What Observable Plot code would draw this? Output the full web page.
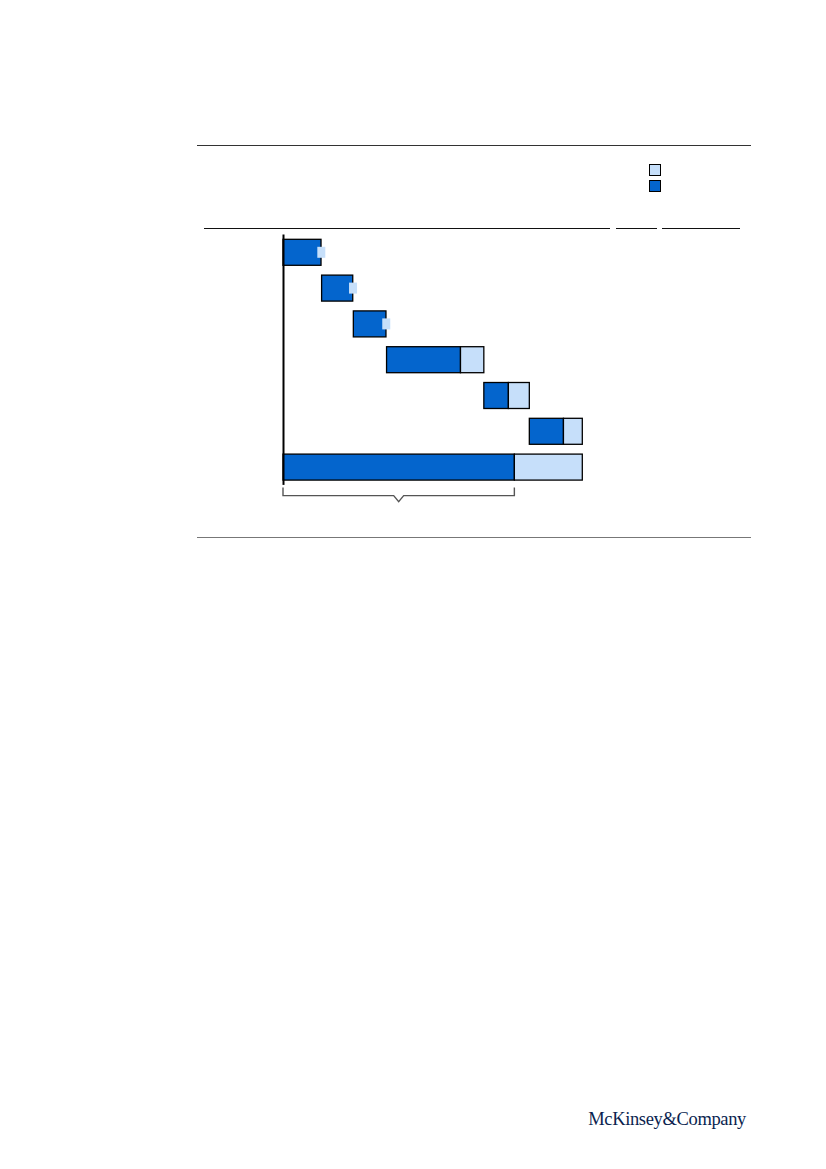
<!DOCTYPE html>
<html>
<head>
<meta charset="utf-8">
<script src="https://cdn.jsdelivr.net/npm/d3@7"></script>
<script src="https://cdn.jsdelivr.net/npm/@observablehq/plot@0.6"></script>
<style>
  html, body { margin: 0; padding: 0; background: #fff; }
  #page { position: relative; width: 826px; height: 1169px; overflow: hidden; }
  .rule { position: absolute; height: 0; }
  .sw { position: absolute; width: 10px; height: 10px; border: 1px solid #000; }
  #chart { position: absolute; left: 0; top: 0; }
  #logo { position: absolute; right: 80px; top: 1109.5px; line-height: 1; font-family: "Liberation Serif", "DejaVu Serif", serif; font-size: 18.5px; color: #0b1f4f; letter-spacing: -0.35px; white-space: nowrap; }
</style>
</head>
<body>
<div id="page">
  <div class="rule" style="left:197px; width:554px; top:144.5px; border-top:1.4px solid #333;"></div>
  <div class="sw" style="left:649px; top:164px; background:#c6dffa;"></div>
  <div class="sw" style="left:649px; top:180px; background:#0465cd;"></div>
  <div class="rule" style="left:204px; width:406px; top:227.5px; border-top:1.2px solid #111;"></div>
  <div class="rule" style="left:616px; width:41px; top:227.5px; border-top:1.2px solid #111;"></div>
  <div class="rule" style="left:662px; width:78px; top:227.5px; border-top:1.2px solid #111;"></div>
  <div class="rule" style="left:197px; width:554px; top:537px; border-top:1px solid #777;"></div>
  <div id="chart"></div>
  <div id="logo">McKinsey&amp;Company</div>
</div>
<script>
// Data
const categories = ["1", "2", "3", "4", "5", "6", "Total"];
const darkValues = [12.7, 10.4, 10.9, 24.7, 8.2, 11.4];
const lightValues = [0.2, 0.2, 0.2, 7.8, 7.0, 6.3];
const totalDark = 77.3;
const totalLight = 22.7;

const DARK = "#0465cd", LIGHT = "#c6dffa";

// Build waterfall table
let cum = 0;
const rows = darkValues.map((d, i) => {
  const start = cum;
  const darkEnd = start + d;
  const end = darkEnd + lightValues[i];
  cum = end;
  return {cat: categories[i], start, darkEnd, end, light: lightValues[i]};
});
rows.push({cat: "Total", start: 0, darkEnd: totalDark, end: totalDark + totalLight, light: totalLight});

const steps = rows.slice(0, 6);
const bigLight = rows.filter(r => r.light >= 1);
const smallLight = rows.filter(r => r.light < 1);

const chart = Plot.plot({
  width: 826,
  height: 560,
  marginLeft: 283,
  marginRight: 243.7,
  marginTop: 229.5,
  marginBottom: 70.1,
  x: {domain: [0, 100], axis: null},
  y: {domain: categories, padding: 0.274, round: false, axis: null},
  marks: [
    Plot.ruleX(steps, {
      x: "end", y: "cat",
      insetTop: 26, insetBottom: -9.8,
      stroke: "#222", strokeWidth: 1, strokeDasharray: "1.5,1"
    }),
    Plot.rectX(rows, {
      x1: "start", x2: "darkEnd", y: "cat",
      fill: DARK, stroke: "#000", strokeWidth: 1.3
    }),
    Plot.rectX(bigLight, {
      x1: "darkEnd", x2: "end", y: "cat",
      fill: LIGHT, stroke: "#000", strokeWidth: 1.3
    }),
    Plot.rectX(smallLight, {
      x1: "darkEnd", x2: "end", y: "cat",
      insetLeft: -3.7, insetRight: -3.7, insetTop: 7.5, insetBottom: 7.5,
      fill: LIGHT
    }),
    Plot.ruleX([0], {insetTop: 5, insetBottom: 5, stroke: "#000", strokeWidth: 2})
  ]
});
document.getElementById("chart").appendChild(chart);

// Bracket under the total's dark segment
const xs = chart.scale("x"), ys = chart.scale("y");
const x0 = xs.apply(0), x1 = xs.apply(totalDark), xm = (x0 + x1) / 2;
const yb = ys.apply("Total") + ys.bandwidth;
const yTop = yb + 7.5, yLine = yb + 15.5, yNotch = yb + 21.5;
d3.select(chart).append("path")
  .attr("d", `M${x0},${yTop}V${yLine}H${xm - 5}L${xm},${yNotch}L${xm + 5},${yLine}H${x1}V${yTop}`)
  .attr("fill", "none").attr("stroke", "#555").attr("stroke-width", 1.4);
</script>
</body>
</html>
